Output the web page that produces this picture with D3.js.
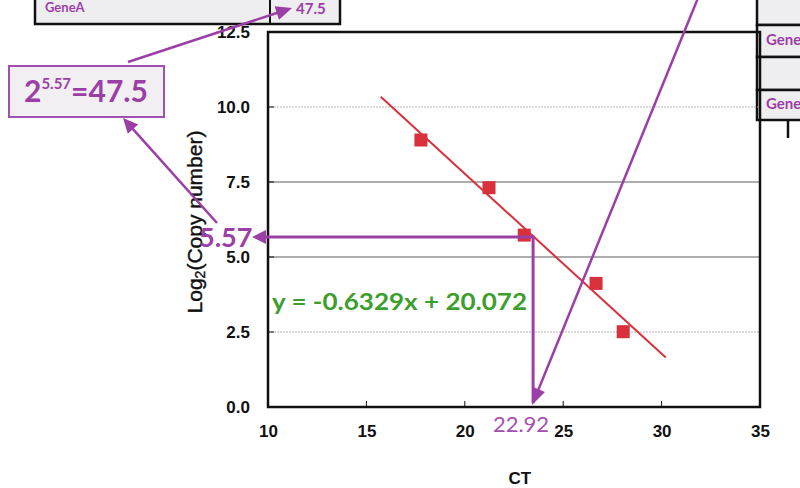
<!DOCTYPE html>
<html>
<head>
<meta charset="utf-8">
<script src="https://cdn.jsdelivr.net/npm/d3@7"></script>
<style>
html,body{margin:0;padding:0;background:#fff;}
svg{display:block;}
</style>
</head>
<body>
<svg id="chart" width="800" height="488"></svg>
<script>
// ---- data ----
const ctValues   = [17.77, 21.23, 23.02, 26.67, 28.05];
const log2Copy   = [8.90, 7.31, 5.73, 4.12, 2.51];
const trendCT    = [15.73, 30.21];
const trendLog   = [10.34, 1.65];
const xTicks     = [10, 15, 20, 25, 30, 35];
const yTicks     = [0, 2.5, 5.0, 7.5, 10.0, 12.5];
const equationText = "y = -0.6329x + 20.072";
const readCT     = 22.92;
const readLog    = 5.57;
const copyNumber = 47.5;
// annotation anchor values
const guideCT    = 23.47;   // where the guide lines turn
const guideLog   = 5.67;

const svg = d3.select("#chart");
const purple = "#9b3fa6", red = "#d8313b", green = "#3c9e2c";

const x = d3.scaleLinear().domain([10, 35]).range([268, 760]);
const y = d3.scaleLinear().domain([0, 12.5]).range([407, 32]);

function arrowHead(g, x1, y1, x2, y2, len, wid, color) {
  const a = Math.atan2(y2 - y1, x2 - x1);
  const bx = x2 - len * Math.cos(a), by = y2 - len * Math.sin(a);
  const px = -Math.sin(a) * wid / 2, py = Math.cos(a) * wid / 2;
  g.append("path")
    .attr("d", `M${x2},${y2}L${bx + px},${by + py}L${bx - px},${by - py}Z`)
    .attr("fill", color);
}
function arrow(g, x1, y1, x2, y2, len, wid, color, sw) {
  const a = Math.atan2(y2 - y1, x2 - x1);
  g.append("line").attr("x1", x1).attr("y1", y1)
    .attr("x2", x2 - (len * 0.8) * Math.cos(a)).attr("y2", y2 - (len * 0.8) * Math.sin(a))
    .attr("stroke", color).attr("stroke-width", sw);
  arrowHead(g, x1, y1, x2, y2, len, wid, color);
}

// ---- top-left table ----
const tbl = svg.append("g");
tbl.append("rect").attr("x", 35).attr("y", -5).attr("width", 305).attr("height", 29)
  .attr("fill", "#eeedef").attr("stroke", "#111").attr("stroke-width", 2.5);
tbl.append("line").attr("x1", 270).attr("x2", 270).attr("y1", -5).attr("y2", 24)
  .attr("stroke", "#111").attr("stroke-width", 2);
tbl.append("text").attr("x", 45).attr("y", 12).text("GeneA")
  .attr("font-family", "Lato").attr("font-weight", "bold").attr("font-size", 13).attr("fill", purple);
tbl.append("text").attr("x", 296).attr("y", 14).text(copyNumber.toFixed(1))
  .attr("font-family", "Lato").attr("font-weight", "bold").attr("font-size", 15).attr("fill", purple);

// ---- top-right table ----
const rt = svg.append("g");
const rowYs = [-5, 25, 57, 90];
const rowHs = [30, 32, 33, 30];
rowYs.forEach((ry, i) => {
  rt.append("rect").attr("x", 757).attr("y", ry).attr("width", 60).attr("height", rowHs[i])
    .attr("fill", "#eeedef").attr("stroke", "#111").attr("stroke-width", 2.5);
});
rt.append("text").attr("x", 766).attr("y", 45).text("Gene")
  .attr("font-family", "Lato").attr("font-weight", "bold").attr("font-size", 15).attr("fill", purple);
rt.append("text").attr("x", 766).attr("y", 109).text("Gene")
  .attr("font-family", "Lato").attr("font-weight", "bold").attr("font-size", 15).attr("fill", purple);
rt.append("line").attr("x1", 788).attr("x2", 788).attr("y1", 120).attr("y2", 138)
  .attr("stroke", "#111").attr("stroke-width", 2.5);

// ---- plot ----
const plot = svg.append("g");
yTicks.filter(v => v > 0 && v < 12.5).forEach(v => {
  const dark = (v === 5 || v === 7.5);
  plot.append("line").attr("x1", x(10)).attr("x2", x(35)).attr("y1", y(v)).attr("y2", y(v))
    .attr("stroke", dark ? "#5a5a5a" : "#b5b5b5").attr("stroke-width", 1)
    .attr("stroke-dasharray", dark ? null : "2,1");
});
plot.append("rect").attr("x", x(10)).attr("y", y(12.5)).attr("width", x(35) - x(10)).attr("height", y(0) - y(12.5))
  .attr("fill", "none").attr("stroke", "#111").attr("stroke-width", 2.5);

const xAxis = d3.axisBottom(x).tickValues(xTicks).tickSize(0).tickPadding(18).tickFormat(d3.format("d"));
const gx = plot.append("g").attr("transform", `translate(0,${y(0)})`).call(xAxis);
gx.select(".domain").remove();
gx.selectAll("text").attr("font-family", "Liberation Sans").attr("font-weight", "bold")
  .attr("font-size", 17).attr("fill", "#111");
xTicks.slice(1, -1).forEach(v => {
  plot.append("line").attr("x1", x(v)).attr("x2", x(v)).attr("y1", y(0)).attr("y2", y(0) - 6)
    .attr("stroke", "#111").attr("stroke-width", 1);
});
const yAxis = d3.axisLeft(y).tickValues(yTicks).tickSize(0).tickPadding(18).tickFormat(d3.format(".1f"));
const gy = plot.append("g").attr("transform", `translate(${x(10)},0)`).call(yAxis);
gy.select(".domain").remove();
gy.selectAll("text").attr("font-family", "Liberation Sans").attr("font-weight", "bold")
  .attr("font-size", 17).attr("fill", "#111");
yTicks.slice(1, -1).forEach(v => {
  plot.append("line").attr("x1", x(10)).attr("x2", x(10) + 6).attr("y1", y(v)).attr("y2", y(v))
    .attr("stroke", "#111").attr("stroke-width", 1);
});

svg.append("text").attr("x", x(22.8)).attr("y", 484).attr("text-anchor", "middle").text("CT")
  .attr("font-family", "Liberation Sans").attr("font-weight", "bold").attr("font-size", 17).attr("fill", "#111");
const yl = svg.append("text").attr("transform", "translate(202,222) rotate(-90)").attr("text-anchor", "middle")
  .attr("font-family", "Liberation Sans").attr("font-size", 21).attr("fill", "#111")
  .attr("stroke", "#111").attr("stroke-width", 0.4);
yl.append("tspan").text("Log");
yl.append("tspan").text("2").attr("font-size", 14).attr("dy", 3);
yl.append("tspan").text("(Copy number)").attr("dy", -3);

plot.append("line").attr("x1", x(trendCT[0])).attr("y1", y(trendLog[0]))
  .attr("x2", x(trendCT[1])).attr("y2", y(trendLog[1]))
  .attr("stroke", red).attr("stroke-width", 2);

const ann = svg.append("g");
arrow(ann, x(guideCT), y(guideLog), 252, y(guideLog), 14, 14, purple, 3);
ann.append("line").attr("x1", x(guideCT)).attr("y1", y(guideLog) - 1.5).attr("x2", x(guideCT)).attr("y2", y(0) - 4)
  .attr("stroke", purple).attr("stroke-width", 3);

plot.selectAll("rect.pt").data(ctValues).enter().append("rect").attr("class", "pt")
  .attr("x", d => x(d) - 6.5).attr("y", (d, i) => y(log2Copy[i]) - 6.5)
  .attr("width", 13).attr("height", 13).attr("fill", red);

arrow(ann, 698, -2, x(guideCT) - 1, y(0) - 2, 17, 14, purple, 2.5);
arrow(ann, 217, 223, 123, 118, 15, 14, purple, 2.5);
arrow(ann, 128, 62, 292, 8, 16, 14, purple, 2.5);

svg.append("text").attr("x", 272).attr("y", 310).text(equationText)
  .attr("font-family", "Lato").attr("font-weight", "bold").attr("font-size", 23).attr("fill", green)
  .attr("textLength", 255).attr("lengthAdjust", "spacingAndGlyphs");

svg.append("text").attr("x", 199).attr("y", 247).text(readLog.toFixed(2))
  .attr("font-family", "Lato").attr("font-weight", "bold").attr("font-size", 27).attr("fill", purple);

svg.append("text").attr("x", 521).attr("y", 432).attr("text-anchor", "middle").text(readCT.toFixed(2))
  .attr("font-family", "Lato").attr("font-size", 22).attr("fill", "#a450b0");

const bx = svg.append("g");
bx.append("rect").attr("x", 9).attr("y", 66).attr("width", 155).attr("height", 51)
  .attr("fill", "#f1eff2").attr("stroke", "#a050b0").attr("stroke-width", 2);
const bt = bx.append("text").attr("x", 24).attr("y", 102)
  .attr("font-family", "Lato").attr("font-weight", "bold").attr("font-size", 30).attr("fill", purple);
bt.append("tspan").text("2");
bt.append("tspan").text(readLog.toFixed(2)).attr("font-size", 15).attr("dy", -13);
bt.append("tspan").text("=" + copyNumber.toFixed(1)).attr("dy", 13);
</script>
</body>
</html>
